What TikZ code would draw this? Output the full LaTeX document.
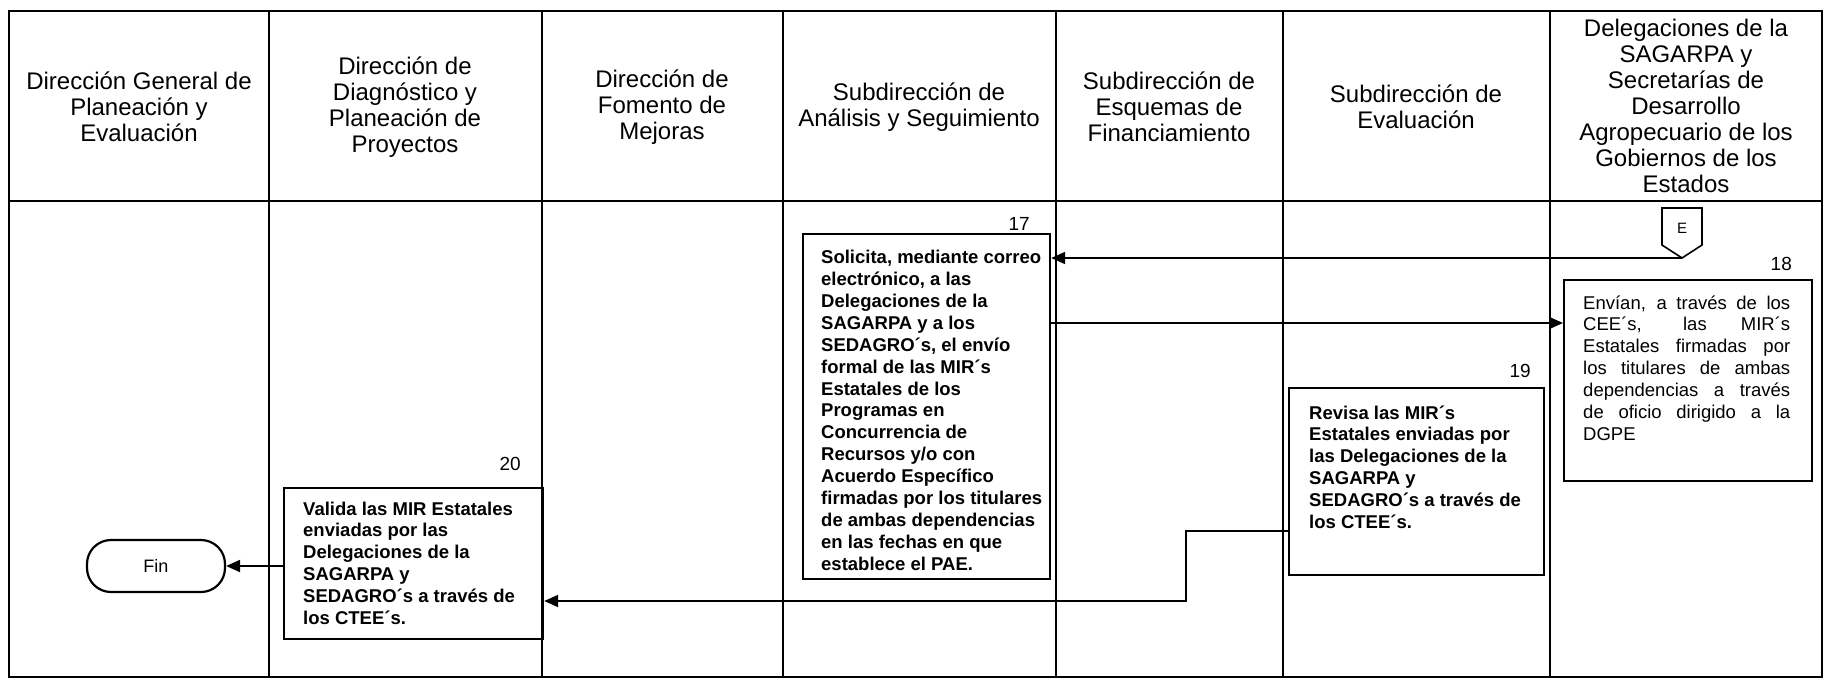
\documentclass[tikz,border=0pt]{standalone}
\usepackage{fontspec}
\setmainfont{Liberation Sans}
\usetikzlibrary{arrows.meta}
\newcommand{\hdrfont}{\fontsize{24}{26}\selectfont}
\newcommand{\bodyfont}{\fontsize{18.5}{21.9}\selectfont}
\newcommand{\numfont}{\fontsize{19}{22}\selectfont}
\begin{document}
\begin{tikzpicture}[x=1pt,y=-1pt,
  frame/.style={line width=2.4pt},
  lane/.style={line width=1.4pt},
  box/.style={draw,line width=2.2pt,rectangle,inner sep=0pt,anchor=north west},
  hdr/.style={align=center,font=\hdrfont,inner sep=0pt},
  btext/.style={anchor=base west,inner sep=0pt},
  num/.style={anchor=base east,inner sep=0pt,font=\numfont},
  arr/.style={line width=2pt,-{Triangle[length=14pt,width=12pt]}},
  term/.style={draw,line width=2.2pt,rounded corners=24pt,minimum width=138pt,minimum height=52pt,inner sep=0pt,font=\fontsize{18}{22}\selectfont}
]
\useasboundingbox[fill=white] (0,0) rectangle (1828,680);
% frame
\draw[frame] (9,11) rectangle (1822,677);
\draw[frame] (9,201) -- (1822,201);
\foreach \x in {269,542,783,1056,1283,1550} \draw[lane] (\x,11) -- (\x,677);
% headers
\node[hdr] (h1) at (139,107) {Dirección General de\\Planeación y\\Evaluación};
\node[hdr] (h2) at (405,107) {Dirección de\\Diagnóstico y\\Planeación de\\Proyectos};
\node[hdr] (h3) at (662,107) {Dirección de\\Fomento de\\Mejoras};
\node[hdr] (h4) at (919,107) {Subdirección de\\Análisis y Seguimiento};
\node[hdr] (h5) at (1169,107) {Subdirección de\\Esquemas de\\Financiamiento};
\node[hdr] (h6) at (1416,107) {Subdirección de\\Evaluación};
\node[hdr] (h7) at (1686,106) {Delegaciones de la\\SAGARPA y\\Secretarías de\\Desarrollo\\Agropecuario de los\\Gobiernos de los\\Estados};
% connector E
\node[inner sep=0pt,font=\fontsize{15}{18}\selectfont] (E) at (1682,228) {E};
\draw[line width=1.6pt] ([shift={(-20,-20)}]E.center) -- ([shift={(20,-20)}]E.center) -- ([shift={(20,17)}]E.center) -- ([shift={(0,30)}]E.center) -- ([shift={(-20,17)}]E.center) -- cycle;
\coordinate (Etip) at ([shift={(0,30)}]E.center);
% box 17
\node[box,minimum width=247pt,minimum height=345pt] (b17) at (802,233) {};
\node[num] (n17) at (1030,230) {17};
\node[btext] (t17) at (821,263.6) {\parbox[t]{226pt}{\raggedright\bodyfont\bfseries
Solicita, mediante correo\\electrónico, a las\\Delegaciones de la\\SAGARPA y a los\\SEDAGRO´s, el envío\\formal de las MIR´s\\Estatales de los\\Programas en\\Concurrencia de\\Recursos y/o con\\Acuerdo Específico\\firmadas por los titulares\\de ambas dependencias\\en las fechas en que\\establece el PAE.}};
% box 18
\node[box,minimum width=248pt,minimum height=201pt] (b18) at (1563,279) {};
\node[num] (n18) at (1792,270) {18};
\node[btext] (t18) at (1583,309) {\parbox[t]{207pt}{\bodyfont
Envían, a través de los\linebreak CEE´s, las MIR´s\linebreak Estatales firmadas por\linebreak los titulares de ambas\linebreak dependencias a través\linebreak de oficio dirigido a la\linebreak DGPE}};
% box 19
\node[box,minimum width=255pt,minimum height=187pt] (b19) at (1288,387) {};
\node[num] (n19) at (1531,377) {19};
\node[btext] (t19) at (1309,419) {\parbox[t]{230pt}{\raggedright\bodyfont\bfseries
Revisa las MIR´s\\Estatales enviadas por\\las Delegaciones de la\\SAGARPA y\\SEDAGRO´s a través de\\los CTEE´s.}};
% box 20
\node[box,minimum width=259pt,minimum height=151pt] (b20) at (283,487) {};
\node[num] (n20) at (521,470) {20};
\node[btext] (t20) at (303,515) {\parbox[t]{235pt}{\raggedright\bodyfont\bfseries
Valida las MIR Estatales\\enviadas por las\\Delegaciones de la\\SAGARPA y\\SEDAGRO´s a través de\\los CTEE´s.}};
% Fin
\node[term] (fin) at (156,566) {Fin};
% connectors
\draw[arr] (Etip) -- (Etip -| b17.east);
\draw[arr] (b17.east |- 0,323) -- (b18.west |- 0,323);
\coordinate (c1) at (1186,531);
\coordinate (c2) at (1186,601);
\draw[arr] (b19.west |- c1) -- (c1) -- (c2) -- (c2 -| b20.east);
\draw[arr] (b20.west |- fin) -- (fin.east);
\end{tikzpicture}
\end{document}
